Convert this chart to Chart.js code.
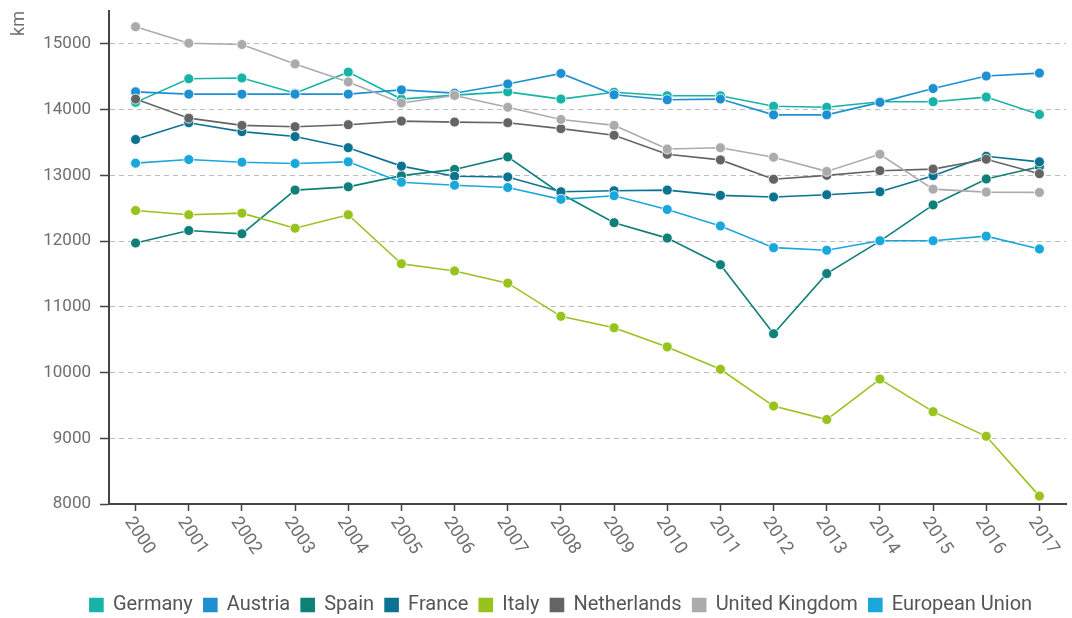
<!DOCTYPE html>
<html>
<head>
<meta charset="utf-8">
<script src="https://cdn.jsdelivr.net/npm/chart.js@4"></script>
<style>
  html, body { margin: 0; padding: 0; background: #fff; }
  #wrap { width: 1072px; height: 618px; }
</style>
</head>
<body>
<div id="wrap"><canvas id="Rail"></canvas></div>
<script>
var years = ["2000", "2001", "2002", "2003", "2004", "2005", "2006", "2007", "2008",
  "2009", "2010", "2011", "2012", "2013", "2014", "2015", "2016", "2017"];

var germany = [14110, 14470, 14480, 14250, 14570, 14160, 14220, 14270, 14160,
  14265, 14210, 14210, 14050, 14035, 14120, 14120, 14190, 13925];
var austria = [14270, 14235, 14235, 14235, 14235, 14300, 14250, 14390, 14550,
  14225, 14150, 14160, 13920, 13920, 14110, 14320, 14510, 14555];
var spain = [11970, 12160, 12110, 12775, 12825, 12995, 13090, 13280, 12720,
  12280, 12045, 11640, 10590, 11505, 12000, 12550, 12945, 13130];
var france = [13545, 13800, 13665, 13590, 13420, 13140, 12985, 12975, 12750,
  12765, 12775, 12695, 12670, 12705, 12750, 12995, 13290, 13205];
var italy = [12465, 12400, 12425, 12195, 12400, 11655, 11545, 11360, 10855,
  10680, 10390, 10050, 9490, 9285, 9900, 9405, 9030, 8120];
var netherlands = [14160, 13870, 13760, 13740, 13770, 13825, 13810, 13800, 13710,
  13610, 13320, 13235, 12940, 13000, 13070, 13095, 13245, 13025];
var unitedKingdom = [15260, 15010, 14990, 14695, 14420, 14100, 14215, 14035, 13850,
  13760, 13400, 13420, 13275, 13060, 13320, 12790, 12745, 12740];
var europeanUnion = [13185, 13240, 13200, 13180, 13205, 12895, 12850, 12815, 12635,
  12690, 12480, 12230, 11900, 11860, 12005, 12005, 12075, 11880];

var yTicks = [8000, 9000, 10000, 11000, 12000, 13000, 14000, 15000];

var FONT = "Roboto";
var GREY = "#6e6e6e";

function line(label, data, color, i) {
  return {
    label: label,
    data: data,
    borderColor: color,
    backgroundColor: color,
    borderWidth: 1.6,
    pointRadius: 5,
    pointBorderWidth: 1,
    pointBorderColor: "rgba(255,255,255,0.8)",
    pointBackgroundColor: color,
    tension: 0,
    order: -i, // later series drawn on top
  };
}

// x labels are drawn turned clockwise, reading down to the right
var yearLabels = {
  id: "yearLabels",
  afterDraw: function (chart) {
    var x = chart.scales.x;
    var c = chart.ctx;
    c.save();
    c.fillStyle = GREY;
    c.font = "18px " + FONT;
    c.textAlign = "left";
    c.textBaseline = "top";
    x.ticks.forEach(function (t, i) {
      c.save();
      c.translate(x.getPixelForTick(i), x.top + 10);
      c.rotate((56 * Math.PI) / 180);
      c.fillText(x.getLabelForValue(t.value), 0, 0);
      c.restore();
    });
    c.restore();
  },
};

// legend sits a little right of centre and low in the original
var legendShift = {
  id: "legendShift",
  afterLayout: function (chart) {
    var l = chart.legend;
    l.left += 25;
    l.right += 25;
    l.top += 7;
    l.bottom += 7;
  },
};

var ctx = document.getElementById("Rail").getContext("2d");
var myChart = new Chart(ctx, {
  type: "line",
  data: {
    labels: years,
    datasets: [
      line("Germany", germany, "#17b3a6", 0),
      line("Austria", austria, "#1e90d2", 1),
      line("Spain", spain, "#0e8078", 2),
      line("France", france, "#0b7391", 3),
      line("Italy", italy, "#98c21d", 4),
      line("Netherlands", netherlands, "#646464", 5),
      line("United Kingdom", unitedKingdom, "#ababab", 6),
      line("European Union", europeanUnion, "#1aa8dc", 7),
    ],
  },
  options: {
    responsive: true,
    maintainAspectRatio: false,
    animation: false,
    layout: { padding: { top: 11, right: 0, left: 0, bottom: 0 } },
    scales: {
      x: {
        offset: true,
        grid: { drawOnChartArea: false, drawTicks: true, tickLength: 7, tickColor: "#444", tickWidth: 1.5 },
        border: { color: "#444", width: 2 },
        ticks: { display: false },
        afterFit: function (s) { s.height = 73; },
      },
      y: {
        min: 8000,
        max: 15500,
        afterBuildTicks: function (s) {
          s.ticks = yTicks.map(function (v) { return { value: v }; });
        },
        grid: { color: "#bdbdbd", lineWidth: 1, tickColor: "#444", tickLength: 9, tickWidth: 1.5 },
        border: { color: "#444", width: 2, dash: [5, 4] },
        ticks: {
          color: GREY,
          font: { family: FONT, size: 17 },
          padding: 9,
          callback: function (v) { return String(v); },
        },
        title: {
          display: true,
          text: "km",
          align: "end",
          color: GREY,
          font: { family: FONT, size: 18 },
          padding: { top: 9, bottom: 0 },
        },
        afterFit: function (s) {
          s.width = 109;
          s.paddingTop = 0;
          s.paddingBottom = 0;
        },
      },
    },
    plugins: {
      legend: {
        position: "bottom",
        reverse: true,
        labels: {
          boxWidth: 13,
          boxHeight: 13,
          color: "#555",
          font: { family: FONT, size: 20 },
          padding: 11,
        },
      },
      tooltip: { enabled: false },
    },
  },
  plugins: [yearLabels, legendShift],
});
</script>
</body>
</html>
